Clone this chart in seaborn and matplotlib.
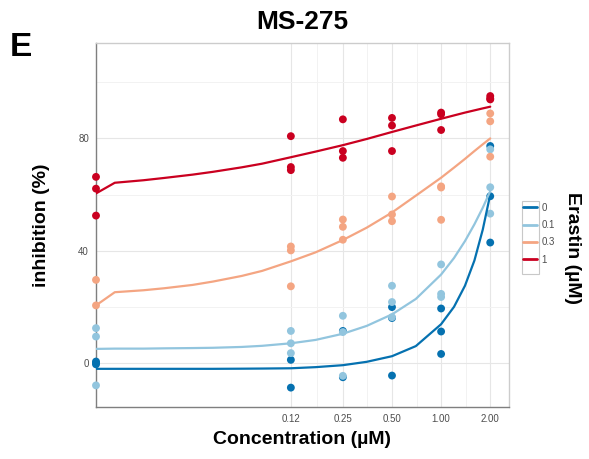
import matplotlib
matplotlib.use("Agg")
import matplotlib.pyplot as plt
import matplotlib.patches as mpatches
from matplotlib.lines import Line2D
from matplotlib.ticker import NullFormatter
import numpy as np
import pandas as pd
import seaborn as sns

# erastin levels and colours
erastin_levels = ["0", "0.1", "0.3", "1"]
erastin_colors = ["#0571B0", "#92C5DE", "#F4A582", "#CA0020"]

# measured points (MS-275 concentration in uM, inhibition in %)
e0_conc = [0, 0, 0, 0.12, 0.12, 0.25, 0.25, 0.5, 0.5, 0.5, 1, 1, 1, 2, 2, 2]
e0_inh = [0.5, 0, -0.5, 1.1, -8.8, 11.4, -5.1, 19.9, 16.0, -4.5, 19.4, 11.2, 3.2, 77.3, 59.4, 42.9]

e01_conc = [0, 0, 0, 0.12, 0.12, 0.12, 0.25, 0.25, 0.25, 0.5, 0.5, 0.5, 1, 1, 1, 2, 2, 2]
e01_inh = [12.4, 9.4, -8.0, 11.4, 7.0, 3.5, 16.8, 11.0, -4.6, 27.5, 21.7, 16.3, 35.1, 24.6, 23.5, 76.1, 62.6, 53.2]

e03_conc = [0, 0, 0.12, 0.12, 0.12, 0.25, 0.25, 0.25, 0.5, 0.5, 0.5, 1, 1, 1, 2, 2, 2]
e03_inh = [29.6, 20.5, 41.5, 40.1, 27.3, 51.1, 48.5, 43.9, 59.3, 52.9, 50.5, 62.9, 62.5, 51.0, 88.9, 86.1, 73.5]

e1_conc = [0, 0, 0, 0.12, 0.12, 0.12, 0.25, 0.25, 0.25, 0.5, 0.5, 0.5, 1, 1, 1, 2, 2, 2]
e1_inh = [66.3, 62.1, 52.5, 80.8, 69.8, 68.7, 86.8, 75.5, 73.1, 87.3, 84.6, 75.5, 89.2, 88.6, 83.0, 95.1, 94.2, 93.9]

# fitted curves
fit_conc = [0, 0.01, 0.015, 0.02, 0.03, 0.04, 0.06, 0.08, 0.12, 0.17, 0.25,
            0.35, 0.5, 0.7, 1.0, 1.2, 1.4, 1.6, 1.8, 2.0]
fit_e0 = [-2.1, -2.1, -2.1, -2.1, -2.1, -2.1, -2.05, -2.0, -1.9, -1.5, -0.8,
          0.4, 2.4, 6.0, 13.8, 20.0, 27.5, 36.5, 47.5, 60.0]
fit_e01 = [5.0, 5.1, 5.1, 5.2, 5.3, 5.4, 5.7, 6.1, 7.0, 8.2, 10.4,
           13.2, 17.3, 22.8, 31.5, 37.4, 43.4, 49.4, 55.3, 61.2]
fit_e03 = [20.5, 25.2, 25.9, 26.6, 27.8, 29.0, 31.0, 32.8, 36.2, 39.4, 43.8,
           48.2, 53.6, 59.6, 66.0, 69.6, 72.7, 75.5, 77.9, 80.0]
fit_e1 = [60.4, 64.2, 65.1, 65.9, 67.1, 68.1, 69.7, 71.0, 73.3, 75.3, 77.6,
          79.8, 82.3, 84.6, 87.0, 88.2, 89.2, 90.0, 90.7, 91.3]

x_ticks = [0.12, 0.25, 0.50, 1.00, 2.00]
x_ticklabels = ["0.12", "0.25", "0.50", "1.00", "2.00"]
y_ticks = [0, 40, 80]

# log2 axis; zero concentration sits on the left panel edge like ggplot's -Inf
xmin = 0.01 * 200 ** (-0.05)
xmax = 2.0 * 200 ** 0.05

pts = pd.concat([
    pd.DataFrame({"conc": e0_conc, "inh": e0_inh, "erastin": "0"}),
    pd.DataFrame({"conc": e01_conc, "inh": e01_inh, "erastin": "0.1"}),
    pd.DataFrame({"conc": e03_conc, "inh": e03_inh, "erastin": "0.3"}),
    pd.DataFrame({"conc": e1_conc, "inh": e1_inh, "erastin": "1"}),
])
pts["x"] = np.where(pts["conc"] == 0, xmin, pts["conc"])

fits = pd.concat([
    pd.DataFrame({"conc": fit_conc, "inh": fit_e0, "erastin": "0"}),
    pd.DataFrame({"conc": fit_conc, "inh": fit_e01, "erastin": "0.1"}),
    pd.DataFrame({"conc": fit_conc, "inh": fit_e03, "erastin": "0.3"}),
    pd.DataFrame({"conc": fit_conc, "inh": fit_e1, "erastin": "1"}),
])
fits["x"] = np.where(fits["conc"] == 0, xmin, fits["conc"])

pal = dict(zip(erastin_levels, erastin_colors))

sns.set_style("white")
plt.rcParams["font.family"] = ["Liberation Sans", "DejaVu Sans"]
plt.rcParams["text.color"] = "black"

fig = plt.figure(figsize=(5.89, 4.59), dpi=100)
ax = fig.add_axes([96 / 589, 1 - 407 / 459, 413 / 589, 364 / 459])

sns.scatterplot(data=pts, x="x", y="inh", hue="erastin", hue_order=erastin_levels[::-1],
                palette=pal, s=32, edgecolor="none", legend=False, ax=ax, zorder=3, clip_on=False)
sns.lineplot(data=fits, x="x", y="inh", hue="erastin", hue_order=erastin_levels,
             palette=pal, linewidth=1.6, legend=False, ax=ax, zorder=4)

ax.set_xscale("log", base=2)
ax.set_xlim(xmin, xmax)
ax.set_ylim(-15.7, 114)
ax.set_xticks(x_ticks)
ax.set_xticklabels(x_ticklabels)
mids = [np.sqrt(a * b) for a, b in zip(x_ticks[:-1], x_ticks[1:])]
ax.set_xticks(mids, minor=True)
ax.xaxis.set_minor_formatter(NullFormatter())
ax.set_yticks(y_ticks)
ax.set_yticks([20, 60, 100], minor=True)
ax.yaxis.set_minor_formatter(NullFormatter())
ax.tick_params(which="minor", length=0)
ax.tick_params(which="major", length=3, width=0.8, color="#555555", labelsize=7,
               labelcolor="#4D4D4D", pad=2)
ax.grid(which="major", color="#E6E6E6", linewidth=0.8)
ax.grid(which="minor", color="#F2F2F2", linewidth=0.7)
ax.set_axisbelow(True)
ax.set_xlabel("")
ax.set_ylabel("")
for side in ["left", "bottom"]:
    ax.spines[side].set_color("#7F7F7F")
    ax.spines[side].set_linewidth(1.0)
for side in ["top", "right"]:
    ax.spines[side].set_color("#CCCCCC")
    ax.spines[side].set_linewidth(1.0)

fig.text(302 / 589, 1 - 22 / 459, "MS-275", ha="center", va="center", fontsize=19, fontweight="bold")
fig.text(21 / 589, 1 - 47 / 459, "E", ha="center", va="center", fontsize=24, fontweight="bold")
fig.text(41 / 589, 1 - 225 / 459, "inhibition (%)", ha="center", va="center", rotation=90,
         fontsize=14, fontweight="bold")
fig.text(302 / 589, 1 - 440 / 459, "Concentration (\u00b5M)", ha="center", va="center",
         fontsize=14, fontweight="bold")
fig.text(573 / 589, 1 - 248 / 459, "Erastin (\u00b5M)", ha="center", va="center", rotation=-90,
         fontsize=14, fontweight="bold")

handles = [Line2D([0], [0], color=c, linewidth=2) for c in erastin_colors]
leg = fig.legend(handles, erastin_levels, loc="upper left",
                 bbox_to_anchor=(519 / 589, 1 - 199 / 459), frameon=False, fontsize=7,
                 handlelength=1.5, handletextpad=0.4, labelspacing=0.75, borderaxespad=0)
for t in leg.get_texts():
    t.set_color("#4D4D4D")
fig.patches.append(mpatches.Rectangle((522 / 589, 1 - 274 / 459), 17 / 589, 73 / 459,
                                      transform=fig.transFigure, fill=False,
                                      edgecolor="#C8C8C8", linewidth=0.8))

fig.savefig("out.png", dpi=100)
